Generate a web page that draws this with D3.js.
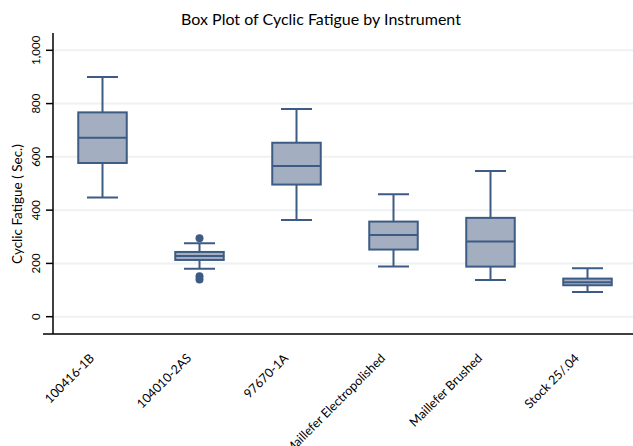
<!DOCTYPE html>
<html lang="en">
<head>
    <meta charset="UTF-8">
    <title>Box Plot of Cyclic Fatigue by Instrument</title>
    <script src="https://d3js.org/d3.v7.min.js"></script>
    <style>
        body {
            margin: 0;
            background: #ffffff;
            font-family: Lato, "Open Sans", sans-serif;
        }
        .grid line {
            stroke: #eef2f2;
            stroke-width: 2;
        }
        .axis path, .axis line {
            stroke: #000;
            stroke-width: 1.5;
        }
        .axis text {
            font-family: Lato, "Open Sans", sans-serif;
            fill: #000;
        }
    </style>
</head>
<body>
    <div id="chart"></div>

    <script>
        // instruments on the x axis
        let instruments = ["100416-1B", "104010-2AS", "97670-1A", "Maillefer Electropolished", "Maillefer Brushed", "Stock 25/.04"];

        // box stats (seconds)
        let whiskerLow = [447, 180, 363, 188, 138, 93];
        let q1 = [577, 213, 496, 252, 188, 118];
        let median = [672, 228, 566, 307, 282, 129];
        let q3 = [767, 243, 653, 357, 371, 143];
        let whiskerHigh = [900, 276, 780, 460, 547, 182];

        // outliers: [instrument index, value]
        let outliers = [[1, 294], [1, 152], [1, 140]];

        let yTicks = [0, 200, 400, 600, 800, 1000];

        let W = 633, H = 446;
        let stroke = "#3d5b84", fill = "#a3afc0";

        let svg = d3.select("#chart").append("svg")
            .attr("width", W)
            .attr("height", H);

        let x = d3.scalePoint()
            .domain(instruments)
            .range([54, 636])
            .padding(0.5);

        let y = d3.scaleLinear()
            .domain([-65, 1065])
            .range([334, 33]);

        let boxW = x.step() * 0.5;
        let capW = x.step() * 0.32;

        // grid
        svg.append("g")
            .attr("class", "grid")
            .selectAll("line")
            .data(yTicks)
            .enter()
            .append("line")
            .attr("x1", 54)
            .attr("x2", W)
            .attr("y1", d => y(d))
            .attr("y2", d => y(d));

        // title
        svg.append("text")
            .attr("x", 321)
            .attr("y", 25)
            .attr("text-anchor", "middle")
            .style("font-size", "16px")
            .text("Box Plot of Cyclic Fatigue by Instrument");

        // y axis label
        svg.append("text")
            .attr("transform", "translate(22," + 204 + ") rotate(-90)")
            .attr("text-anchor", "middle")
            .style("font-size", "13.5px")
            .text("Cyclic Fatigue ( Sec.)");

        // boxes
        let rows = instruments.map((name, i) => ({
            name: name,
            lo: whiskerLow[i], q1: q1[i], med: median[i], q3: q3[i], hi: whiskerHigh[i]
        }));

        let g = svg.selectAll(".box")
            .data(rows)
            .enter()
            .append("g")
            .attr("class", "box")
            .attr("transform", d => "translate(" + x(d.name) + ",0)");

        g.append("line")
            .attr("y1", d => y(d.lo))
            .attr("y2", d => y(d.q1))
            .attr("stroke", stroke).attr("stroke-width", 2);
        g.append("line")
            .attr("y1", d => y(d.q3))
            .attr("y2", d => y(d.hi))
            .attr("stroke", stroke).attr("stroke-width", 2);

        g.append("line")
            .attr("x1", -capW / 2).attr("x2", capW / 2)
            .attr("y1", d => y(d.lo)).attr("y2", d => y(d.lo))
            .attr("stroke", stroke).attr("stroke-width", 2);
        g.append("line")
            .attr("x1", -capW / 2).attr("x2", capW / 2)
            .attr("y1", d => y(d.hi)).attr("y2", d => y(d.hi))
            .attr("stroke", stroke).attr("stroke-width", 2);

        g.append("rect")
            .attr("x", -boxW / 2)
            .attr("width", boxW)
            .attr("y", d => y(d.q3))
            .attr("height", d => y(d.q1) - y(d.q3))
            .attr("fill", fill)
            .attr("stroke", stroke)
            .attr("stroke-width", 2);

        g.append("line")
            .attr("x1", -boxW / 2).attr("x2", boxW / 2)
            .attr("y1", d => y(d.med)).attr("y2", d => y(d.med))
            .attr("stroke", stroke).attr("stroke-width", 2);

        svg.selectAll(".outlier")
            .data(outliers)
            .enter()
            .append("circle")
            .attr("class", "outlier")
            .attr("cx", d => x(instruments[d[0]]))
            .attr("cy", d => y(d[1]))
            .attr("r", 4)
            .attr("fill", stroke);

        // axes
        let yAxis = svg.append("g")
            .attr("class", "axis")
            .attr("transform", "translate(53,0)")
            .call(d3.axisLeft(y).tickValues(yTicks).tickSize(7).tickSizeOuter(0).tickFormat(d3.format(",")));
        yAxis.select(".domain").attr("d", "M0," + 33 + "V" + 334);
        yAxis.selectAll("text")
            .style("font-size", "11.5px")
            .attr("text-anchor", "middle")
            .attr("transform", "rotate(-90)")
            .attr("x", d => -y(d))
            .attr("y", -13)
            .attr("dy", 0);
        yAxis.selectAll(".tick").attr("transform", "translate(0,0)")
            .select("line").attr("y1", d => y(d)).attr("y2", d => y(d));

        let xAxis = svg.append("g")
            .attr("class", "axis")
            .attr("transform", "translate(0,334)")
            .call(d3.axisBottom(x).tickSize(0).tickSizeOuter(0));
        xAxis.select(".domain").attr("d", "M43,0H" + W);
        xAxis.selectAll("text")
            .style("font-size", "12.5px")
            .attr("text-anchor", "end")
            .attr("transform", "translate(-8,25) rotate(-45)")
            .attr("y", 0)
            .attr("dy", 0);
    </script>
</body>
</html>
